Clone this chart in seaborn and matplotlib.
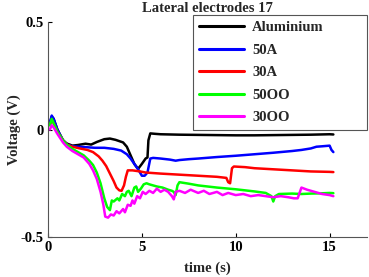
import pandas as pd
import matplotlib
matplotlib.use("Agg")
import matplotlib.pyplot as plt
import seaborn as sns

# data (time in s, voltage in V)
labels = ["Aluminium", "50A", "30A", "50OO", "30OO"]
colors = ["#000000", "#0000ff", "#ff0000", "#00ff00", "#ff00ff"]

t_al = [0.1, 0.2, 0.3, 0.5, 0.8, 1.0, 1.3, 1.6, 2.0, 2.3, 2.6, 3.0, 3.3, 3.6, 4.0, 4.2, 4.4, 4.6,
        4.8, 5.0, 5.2, 5.3, 5.35, 5.45, 5.7, 6, 7, 8, 9, 10, 11, 12, 13, 14, 15, 15.2]
v_al = [0.03, 0.06, 0.05, 0.0, -0.05, -0.065, -0.075, -0.072, -0.066, -0.07, -0.058, -0.045, -0.042,
        -0.048, -0.06, -0.08, -0.12, -0.16, -0.183, -0.16, -0.135, -0.13, -0.05, -0.018, -0.02, -0.022,
        -0.024, -0.025, -0.026, -0.027, -0.027, -0.026, -0.025, -0.024, -0.022, -0.023]

t_50a = [0.1, 0.2, 0.3, 0.5, 0.8, 1.0, 1.3, 1.6, 2.0, 2.5, 3.0, 3.5, 3.9, 4.2, 4.4, 4.6, 4.8, 5.0,
         5.15, 5.3, 5.45, 5.6, 6, 6.5, 6.8, 7, 7.5, 8, 9, 10, 11, 12, 13, 13.5, 14, 14.3, 14.6, 15.0,
         15.1, 15.2]
v_50a = [0.03, 0.065, 0.05, 0.0, -0.05, -0.07, -0.078, -0.08, -0.082, -0.085, -0.085, -0.09, -0.098,
         -0.115, -0.135, -0.16, -0.185, -0.215, -0.215, -0.2, -0.135, -0.132, -0.135, -0.14, -0.145,
         -0.142, -0.138, -0.135, -0.128, -0.122, -0.115, -0.108, -0.1, -0.095, -0.088, -0.08, -0.078,
         -0.075, -0.095, -0.105]

t_30a = [0.1, 0.2, 0.3, 0.5, 0.8, 1.0, 1.3, 1.7, 2.1, 2.4, 2.7, 2.9, 3.1, 3.3, 3.5, 3.65, 3.8, 3.92,
         4.05, 4.15, 4.25, 4.5, 4.9, 5.2, 6, 7, 8, 9, 9.5, 9.6, 9.7, 9.8, 9.9, 10.5, 11, 12, 13, 14,
         15, 15.2]
v_30a = [0.02, 0.045, 0.03, -0.01, -0.05, -0.07, -0.08, -0.088, -0.095, -0.105, -0.125, -0.145, -0.17,
         -0.205, -0.24, -0.27, -0.283, -0.285, -0.26, -0.22, -0.19, -0.19, -0.195, -0.2, -0.205, -0.21,
         -0.215, -0.22, -0.225, -0.245, -0.25, -0.18, -0.172, -0.175, -0.18, -0.185, -0.19, -0.195,
         -0.197, -0.198]

t_50oo = [0.1, 0.2, 0.3, 0.5, 0.8, 1.0, 1.3, 1.6, 1.9, 2.2, 2.4, 2.6, 2.8, 3.0, 3.15, 3.3, 3.4, 3.5,
          3.7, 3.8, 3.95, 4.1, 4.2, 4.3, 4.45, 4.6, 4.7, 4.8, 4.95, 5.1, 5.25, 5.4, 5.6, 5.8, 6.1, 6.4,
          6.6, 6.7, 6.8, 6.9, 7.0, 7.5, 8, 9, 10, 11, 11.6, 11.9, 12.0, 12.1, 12.3, 13, 13.5, 14, 14.5,
          15, 15.2]
v_50oo = [0.02, 0.05, 0.03, -0.01, -0.05, -0.07, -0.09, -0.105, -0.12, -0.145, -0.165, -0.2, -0.25,
          -0.32, -0.36, -0.375, -0.33, -0.335, -0.32, -0.33, -0.3, -0.31, -0.29, -0.285, -0.31, -0.27,
          -0.265, -0.29, -0.275, -0.255, -0.25, -0.255, -0.26, -0.265, -0.27, -0.28, -0.285, -0.29,
          -0.305, -0.26, -0.245, -0.252, -0.26, -0.27, -0.278, -0.288, -0.295, -0.31, -0.335, -0.31,
          -0.3, -0.298, -0.3, -0.298, -0.297, -0.295, -0.296]

t_30oo = [0.1, 0.2, 0.3, 0.5, 0.8, 1.0, 1.3, 1.6, 1.9, 2.2, 2.4, 2.6, 2.8, 2.95, 3.05, 3.2, 3.35, 3.5,
          3.65, 3.8, 4.0, 4.1, 4.25, 4.4, 4.5, 4.6, 4.75, 4.9, 5.05, 5.2, 5.4, 5.6, 5.8, 6.0, 6.2, 6.4,
          6.6, 6.7, 6.8, 7.0, 7.3, 7.6, 8.0, 8.3, 8.6, 9.0, 9.3, 9.6, 10, 10.4, 10.8, 11.2, 11.6, 12.0,
          12.4, 12.8, 13.1, 13.3, 13.5, 13.8, 14.2, 14.6, 15.0, 15.2]
v_30oo = [0.0, 0.02, 0.01, -0.02, -0.06, -0.08, -0.1, -0.115, -0.13, -0.16, -0.19, -0.23, -0.29, -0.35,
          -0.405, -0.41, -0.395, -0.4, -0.38, -0.39, -0.37, -0.385, -0.35, -0.355, -0.33, -0.345, -0.31,
          -0.32, -0.29, -0.3, -0.285, -0.295, -0.275, -0.29, -0.28, -0.29, -0.31, -0.325, -0.29, -0.285,
          -0.295, -0.28, -0.295, -0.285, -0.3, -0.29, -0.305, -0.295, -0.305, -0.3, -0.31, -0.305, -0.31,
          -0.315, -0.31, -0.315, -0.32, -0.32, -0.27, -0.28, -0.29, -0.3, -0.305, -0.31]

series = [(t_al, v_al), (t_50a, v_50a), (t_30a, v_30a), (t_50oo, v_50oo), (t_30oo, v_30oo)]
frames = []
for name, (t, v) in zip(labels, series):
    frames.append(pd.DataFrame({"time": t, "voltage": v, "sample": name}))
df = pd.concat(frames, ignore_index=True)

sns.set_style("white")
plt.rcParams["font.family"] = ["Liberation Serif", "DejaVu Serif"]
plt.rcParams["font.weight"] = "bold"

fs = 10.5
fig = plt.figure(figsize=(3.69, 2.77), dpi=100)
ax = fig.add_axes([0.130, 0.1444, 0.865, 0.776])

sns.lineplot(data=df, x="time", y="voltage", hue="sample", hue_order=labels,
             palette=colors, linewidth=1.8, sort=False, estimator=None, ax=ax)

ax.set_xlim(0, 17)
ax.set_ylim(-0.5, 0.5)
ax.set_xticks([0, 5, 10, 15])
ax.set_yticks([-0.5, 0, 0.5])
ax.set_yticklabels(["-0.5", "0", "0.5"])
ax.tick_params(direction="in", length=3, width=0.8, labelsize=fs, pad=3,
               left=True, bottom=True, colors="black")
for lab in ax.get_xticklabels() + ax.get_yticklabels():
    lab.set_fontweight("bold")
for side in ["top", "right"]:
    ax.spines[side].set_visible(False)
for side in ["left", "bottom"]:
    ax.spines[side].set_color("#555555")
    ax.spines[side].set_linewidth(0.8)

ax.set_title("Lateral electrodes 17", fontsize=fs, fontweight="bold", pad=7)
ax.set_xlabel("time (s)", fontsize=fs, fontweight="bold", labelpad=5)
ax.set_ylabel("Voltage (V)", fontsize=fs, fontweight="bold", labelpad=0)

# wide legend box like the original (extra room right of the labels)
leg = ax.legend(loc="upper left", bbox_to_anchor=(0.4545, 0.5, 0.5455, 0.5326), mode="expand",
                borderaxespad=0, frameon=True, fancybox=False, edgecolor="#555555",
                framealpha=1, fontsize=fs, handlelength=3.1, labelspacing=0.64,
                borderpad=0.4, handletextpad=0.55)
leg.get_frame().set_linewidth(0.8)
for line in leg.get_lines():
    line.set_linewidth(2.2)
for txt in leg.get_texts():
    txt.set_fontweight("bold")

fig.savefig("out.png", dpi=100)
